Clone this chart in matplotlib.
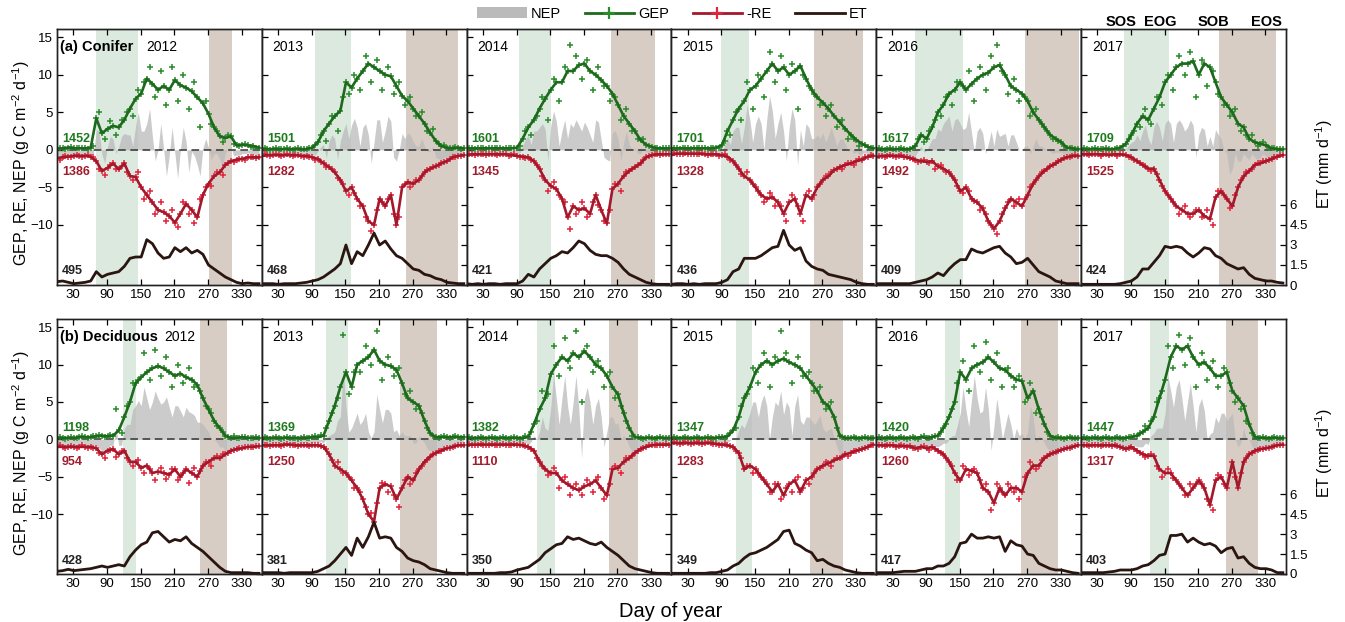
import matplotlib
matplotlib.use('Agg')
import matplotlib.pyplot as plt
import matplotlib.transforms as mtransforms
from matplotlib.patches import Patch
from matplotlib.lines import Line2D
import numpy as np

plt.rcParams['font.family'] = ['Liberation Sans', 'DejaVu Sans']
plt.rcParams['mathtext.default'] = 'regular'

# ---------------- data ----------------
years = [2012, 2013, 2014, 2015, 2016, 2017]
line_days = list(range(1, 362, 10))   # smoothed series, every 10 days
obs_days = list(range(6, 357, 10))    # scattered daily values in between

# Conifer
con_gep = [
    [0.2,0.2,0.3,0.2,0.2,0.2,0.3,4.2,2.2,2.8,3.2,3.0,4.0,5.5,6.8,7.5,9.5,8.8,8.0,8.5,8.0,9.3,8.6,8.3,7.8,7.0,6.2,4.8,3.0,1.8,1.6,1.8,0.6,0.7,0.6,0.5,0.3],
    [0.1,0.1,0.1,0.1,0.1,0.1,0.1,0.1,0.1,0.3,1.0,2.5,3.5,4.5,5.2,9.0,8.3,9.5,10.5,11.5,11.0,10.5,10.0,9.8,8.5,7.2,6.5,5.5,4.5,3.5,2.3,1.2,0.5,0.3,0.2,0.3,0.2],
    [0.2,0.2,0.2,0.2,0.2,0.2,0.2,0.2,0.2,0.3,1.5,3.0,4.0,5.5,6.8,8.0,9.0,9.0,10.5,10.5,11.3,11.5,10.5,10.0,9.3,8.5,7.5,6.0,4.5,3.5,2.5,1.3,0.7,0.4,0.2,0.2,0.2],
    [0.2,0.2,0.2,0.2,0.2,0.2,0.2,0.2,0.3,0.6,2.5,4.0,5.5,6.5,8.0,8.5,9.5,10.5,11.5,10.5,11.0,10.0,10.5,11.2,9.5,8.0,7.0,6.3,5.5,4.5,3.7,2.8,2.0,1.3,0.8,0.4,0.2],
    [0.1,0.1,0.1,0.1,0.1,0.1,0.1,0.5,2.0,1.5,3.0,5.0,6.0,7.5,8.0,9.0,8.0,8.8,9.5,10.0,10.3,11.0,11.3,10.0,8.5,8.0,7.5,6.5,5.0,4.0,3.0,2.0,1.5,1.0,0.3,0.2,0.1],
    [0.1,0.1,0.1,0.1,0.1,0.1,0.1,0.3,0.8,2.0,3.5,4.5,4.0,5.5,7.0,9.0,10.0,11.0,11.5,11.5,11.8,10.0,11.5,11.0,9.0,7.0,6.0,5.0,3.5,3.0,1.5,1.0,0.8,0.6,0.2,0.1,0.1],
]
con_gep_obs = [
    [0.3,0.1,0.4,0.2,0.3,0.1,0.5,5.0,1.5,3.8,2.0,4.0,5.0,4.5,8.0,9.0,11.0,7.0,10.5,6.0,11.0,6.5,10.0,5.5,9.0,3.0,6.5,3.5,2.5,1.0,2.0,0.8,0.5,0.8,0.4,0.3],
    [0.2,0.0,0.2,0.1,0.2,0.0,0.2,0.1,0.2,0.6,2.0,1.2,4.5,2.5,7.0,7.5,10.0,8.0,12.5,9.0,12.0,8.0,11.0,7.5,9.0,6.0,7.0,4.5,5.0,2.5,2.8,0.8,0.6,0.2,0.4,0.1],
    [0.3,0.1,0.3,0.1,0.2,0.3,0.1,0.2,0.3,0.5,2.5,2.0,4.5,7.0,4.0,9.5,6.5,11.0,14.0,12.5,9.5,12.0,8.0,11.0,8.5,6.5,7.0,4.0,5.5,2.5,1.5,1.5,0.5,0.3,0.1,0.3],
    [0.3,0.1,0.3,0.1,0.2,0.3,0.1,0.3,0.2,1.2,2.0,5.0,4.0,9.0,5.5,10.0,7.0,13.0,9.0,12.5,8.0,11.5,5.5,10.0,8.5,7.5,6.0,4.5,6.0,3.0,4.0,1.5,1.5,0.5,0.6,0.2],
    [0.2,0.0,0.2,0.1,0.2,0.0,0.2,1.5,1.0,2.5,4.0,4.5,7.0,6.0,9.0,8.5,10.5,6.5,11.0,8.0,12.5,14.0,10.5,7.5,9.5,6.5,7.0,4.5,5.5,3.5,2.5,1.5,1.2,0.5,0.2,0.1],
    [0.2,0.0,0.2,0.1,0.2,0.0,0.2,0.5,1.5,2.5,3.0,5.5,3.5,7.0,6.0,10.0,8.0,12.5,10.0,13.0,7.0,12.0,8.5,10.5,7.5,6.0,4.5,5.5,2.5,2.0,2.0,0.5,1.0,0.3,0.2,0.1],
]
con_re = [
    [-1.1,-1.0,-0.9,-0.8,-0.8,-0.8,-0.9,-1.5,-2.8,-2.4,-1.8,-2.6,-1.8,-3.5,-3.6,-5.0,-6.0,-7.0,-8.0,-8.3,-8.8,-9.7,-8.5,-7.2,-8.0,-9.0,-6.0,-4.5,-3.5,-3.0,-2.0,-1.5,-1.3,-1.2,-1.0,-1.0,-1.0],
    [-0.8,-0.7,-0.7,-0.7,-0.7,-0.7,-0.7,-0.8,-0.8,-1.0,-1.2,-1.8,-2.3,-3.0,-4.0,-5.5,-5.0,-6.5,-7.5,-9.5,-10.0,-6.5,-7.5,-6.0,-10.0,-5.0,-4.3,-4.5,-4.0,-3.0,-2.5,-2.2,-1.8,-1.5,-1.0,-0.8,-0.7],
    [-0.7,-0.6,-0.6,-0.6,-0.6,-0.6,-0.6,-0.6,-0.7,-0.8,-0.9,-1.0,-1.5,-2.5,-4.0,-4.8,-5.2,-6.5,-9.0,-7.5,-8.0,-7.8,-8.5,-6.0,-8.0,-9.8,-5.2,-4.5,-3.5,-2.8,-2.3,-1.8,-1.0,-0.7,-0.6,-0.6,-0.6],
    [-0.7,-0.5,-0.5,-0.5,-0.5,-0.5,-0.6,-0.6,-0.6,-0.7,-0.9,-1.5,-2.5,-3.5,-4.0,-5.0,-6.0,-6.5,-6.3,-7.0,-8.5,-7.0,-6.5,-8.5,-6.0,-6.5,-5.0,-4.0,-3.5,-2.7,-2.3,-2.0,-1.8,-1.5,-1.3,-0.9,-0.8],
    [-1.0,-0.8,-0.8,-0.8,-0.8,-0.9,-1.1,-1.3,-1.5,-1.6,-1.5,-2.2,-2.5,-3.0,-4.0,-5.5,-5.0,-6.5,-7.0,-7.8,-9.5,-10.5,-9.5,-7.8,-6.5,-7.0,-7.5,-6.0,-4.5,-3.5,-2.8,-2.2,-1.8,-1.3,-1.0,-0.8,-0.8],
    [-0.6,-0.6,-0.6,-0.6,-0.6,-0.7,-0.6,-0.6,-0.7,-1.0,-1.5,-2.0,-2.5,-2.5,-4.0,-5.5,-6.5,-7.5,-8.0,-8.5,-8.5,-8.0,-8.8,-9.2,-6.3,-5.5,-6.5,-7.5,-5.0,-3.5,-2.8,-2.0,-1.8,-1.5,-1.2,-0.9,-0.7],
]
con_re_obs = [
    [-1.3,-0.8,-1.0,-0.7,-0.9,-0.7,-1.0,-2.5,-3.3,-2.0,-2.5,-2.2,-3.0,-4.0,-3.0,-6.5,-5.5,-8.5,-7.0,-9.5,-8.0,-10.3,-7.0,-8.5,-9.8,-6.5,-5.0,-4.8,-3.0,-3.3,-1.8,-1.6,-1.2,-1.3,-0.9,-1.1],
    [-0.6,-0.8,-0.6,-0.8,-0.6,-0.8,-0.7,-0.9,-0.9,-1.3,-1.6,-2.3,-2.5,-3.8,-4.5,-6.0,-5.8,-7.5,-9.0,-10.8,-8.0,-7.0,-6.5,-8.5,-9.0,-4.5,-5.0,-4.0,-3.5,-2.7,-2.3,-2.0,-1.6,-1.2,-0.9,-0.8],
    [-0.5,-0.7,-0.5,-0.7,-0.5,-0.7,-0.5,-0.8,-0.6,-0.9,-1.1,-1.3,-2.0,-3.5,-5.5,-4.3,-6.0,-7.0,-10.5,-8.5,-7.0,-9.0,-7.0,-7.3,-9.5,-8.0,-4.5,-5.5,-3.0,-2.5,-2.0,-1.4,-0.8,-0.5,-0.7,-0.5],
    [-0.4,-0.6,-0.4,-0.6,-0.5,-0.4,-0.7,-0.5,-0.8,-0.6,-1.3,-2.0,-3.2,-3.0,-4.5,-5.5,-7.0,-5.8,-7.5,-7.5,-9.5,-6.0,-7.5,-9.5,-5.5,-6.0,-4.5,-3.5,-3.0,-2.5,-2.5,-1.7,-2.0,-1.2,-1.0,-0.7],
    [-0.8,-1.0,-0.7,-0.9,-0.7,-1.0,-1.2,-1.6,-1.3,-1.8,-2.5,-2.0,-3.0,-3.5,-4.8,-5.8,-5.5,-6.8,-8.0,-8.5,-10.0,-11.2,-8.5,-7.0,-7.5,-6.5,-6.5,-5.0,-4.0,-3.0,-2.5,-2.0,-1.5,-1.1,-0.9,-0.7],
    [-0.5,-0.7,-0.5,-0.8,-0.6,-0.5,-0.8,-0.6,-0.9,-1.3,-1.8,-2.2,-2.8,-3.2,-4.8,-6.0,-7.0,-8.5,-7.5,-9.0,-8.0,-9.0,-8.0,-10.0,-5.5,-6.0,-7.8,-6.0,-4.0,-3.0,-2.5,-1.8,-1.5,-1.3,-0.9,-0.7],
]
con_et = [
    [0.25,0.3,0.2,0.1,0.15,0.2,0.3,1.0,0.6,0.8,0.9,1.0,1.4,2.0,2.1,2.1,3.4,3.1,2.4,2.0,2.1,2.8,2.5,2.8,2.4,2.6,2.3,1.5,1.2,0.9,0.6,0.4,0.2,0.1,0.15,0.1,0.1],
    [0.1,0.1,0.1,0.05,0.1,0.1,0.1,0.15,0.2,0.3,0.4,0.6,0.9,1.2,1.6,3.0,1.6,2.5,2.2,3.0,3.9,3.0,3.3,2.7,2.2,2.0,1.6,1.2,1.1,0.8,0.7,0.5,0.4,0.2,0.15,0.1,0.1],
    [0.1,0.05,0.1,0.05,0.1,0.1,0.05,0.1,0.1,0.1,0.3,0.8,0.6,1.2,1.6,2.0,2.2,2.5,2.4,2.8,3.3,3.1,2.6,2.3,2.2,2.2,2.0,1.7,1.2,0.8,0.6,0.4,0.2,0.1,0.05,0.05,0.05],
    [0.05,0.1,0.1,0.05,0.1,0.05,0.1,0.1,0.1,0.2,0.4,1.0,1.2,2.0,2.0,2.0,2.2,2.5,2.8,2.9,4.1,3.0,2.6,2.8,1.8,1.4,1.2,1.1,0.8,0.7,0.6,0.5,0.4,0.2,0.1,0.05,0.05],
    [0.1,0.1,0.1,0.1,0.1,0.1,0.1,0.2,0.3,0.4,0.6,0.9,0.7,1.2,1.6,1.9,1.9,2.7,2.5,2.4,2.6,2.8,2.9,2.4,2.1,1.6,1.7,2.0,1.5,1.0,0.8,0.6,0.3,0.2,0.1,0.1,0.1],
    [0.05,0.05,0.05,0.05,0.05,0.05,0.05,0.1,0.2,0.3,0.6,1.2,1.2,1.7,2.2,2.9,2.8,2.9,2.8,2.4,2.1,2.4,2.8,2.7,2.2,2.0,1.6,1.4,1.2,1.3,0.8,0.5,0.4,0.3,0.3,0.2,0.15],
]

# Deciduous
dec_gep = [
    [0.2,0.2,0.2,0.2,0.3,0.3,0.3,0.4,0.5,0.4,0.5,1.2,3.0,5.0,7.5,8.3,9.0,9.5,9.8,9.5,9.0,8.5,8.8,8.3,8.0,7.3,5.5,4.0,2.5,1.5,0.5,0.2,0.2,0.3,0.2,0.2,0.2],
    [0.2,0.2,0.2,0.2,0.2,0.2,0.2,0.2,0.2,0.3,0.3,0.5,2.5,4.5,7.0,9.0,7.0,10.0,10.5,11.0,12.0,10.5,10.0,9.8,9.3,7.5,5.5,5.0,4.5,2.5,0.8,0.3,0.3,0.3,0.3,0.3,0.3],
    [0.2,0.2,0.2,0.2,0.2,0.2,0.2,0.2,0.2,0.2,0.2,0.3,2.0,4.0,5.5,8.7,10.0,11.0,10.5,11.5,11.0,11.8,11.0,10.0,9.5,8.5,7.0,6.0,3.5,1.5,0.3,0.2,0.2,0.2,0.2,0.2,0.2],
    [0.2,0.2,0.2,0.2,0.2,0.2,0.2,0.2,0.2,0.3,0.4,1.2,3.0,5.5,7.0,9.0,10.0,10.5,10.0,10.5,10.8,10.3,10.0,9.5,8.5,7.5,6.5,5.0,4.5,3.0,0.5,0.2,0.2,0.2,0.2,0.2,0.2],
    [0.2,0.2,0.2,0.2,0.2,0.2,0.2,0.2,0.3,0.2,0.3,0.5,1.5,3.0,5.0,9.0,8.0,9.5,10.0,10.3,11.0,10.3,9.5,9.3,8.5,8.0,7.8,5.5,6.5,4.0,2.0,0.5,0.2,0.2,0.2,0.2,0.2],
    [0.2,0.2,0.2,0.2,0.2,0.2,0.2,0.2,0.2,0.3,0.5,1.0,1.5,3.0,5.5,8.0,11.0,12.5,12.0,12.5,11.0,10.0,10.3,9.5,8.5,8.5,9.0,6.5,5.5,4.5,2.0,0.3,0.2,0.2,0.2,0.2,0.2],
]
dec_gep_obs = [
    [0.3,0.1,0.3,0.2,0.4,0.2,0.4,0.6,0.3,0.6,4.0,0.8,4.5,7.5,8.0,11.5,8.0,12.0,8.5,11.0,7.0,10.0,7.5,9.5,7.0,6.5,4.5,3.5,1.8,1.0,0.3,0.4,0.2,0.3,0.2,0.3],
    [0.3,0.1,0.3,0.1,0.3,0.2,0.1,0.3,0.2,0.4,0.6,1.5,3.5,5.5,14.0,6.0,9.0,9.0,12.5,10.0,14.5,8.0,11.0,8.5,9.5,6.0,6.5,4.0,3.5,1.5,0.5,0.2,0.4,0.2,0.4,0.2],
    [0.3,0.1,0.3,0.1,0.3,0.1,0.3,0.1,0.3,0.1,0.5,1.0,2.5,6.5,6.0,12.5,8.5,13.5,9.5,14.5,5.0,12.5,9.0,10.5,7.0,9.0,5.5,4.5,2.5,0.5,0.3,0.1,0.3,0.1,0.3,0.2],
    [0.3,0.1,0.3,0.1,0.3,0.1,0.3,0.1,0.3,0.2,0.8,1.5,4.5,6.0,9.5,7.5,11.5,7.0,11.0,14.5,11.5,7.5,11.0,8.5,9.0,6.5,7.0,4.0,5.0,1.5,0.3,0.2,0.3,0.1,0.3,0.2],
    [0.3,0.1,0.3,0.1,0.3,0.1,0.3,0.1,0.4,0.2,0.4,1.0,2.0,4.0,7.5,10.5,6.5,12.5,9.0,13.0,8.0,11.5,7.0,9.5,7.0,8.5,5.0,7.5,3.5,3.0,1.0,0.2,0.3,0.1,0.3,0.2],
    [0.3,0.1,0.3,0.1,0.3,0.1,0.3,0.1,0.3,0.5,0.8,1.8,2.5,5.0,6.5,12.5,9.5,14.0,10.0,13.5,7.0,11.5,8.0,10.5,7.0,9.5,7.5,5.0,4.0,2.5,0.8,0.2,0.3,0.1,0.3,0.2],
]
dec_re = [
    [-1.0,-1.0,-1.0,-1.0,-1.0,-1.0,-1.0,-1.2,-2.0,-1.5,-1.3,-2.0,-1.5,-3.0,-3.0,-3.8,-3.5,-4.5,-4.3,-4.5,-4.7,-4.0,-5.0,-4.0,-4.5,-5.0,-3.5,-3.0,-2.5,-2.5,-2.0,-1.5,-1.3,-1.2,-1.0,-1.0,-0.9],
    [-0.8,-0.8,-0.8,-0.8,-0.7,-0.7,-0.8,-0.8,-0.8,-0.8,-0.8,-1.0,-2.0,-3.5,-4.0,-4.5,-5.5,-6.5,-8.0,-10.0,-11.0,-6.5,-6.0,-6.3,-8.0,-6.5,-5.0,-5.5,-4.0,-3.0,-2.3,-1.8,-1.5,-1.2,-1.0,-0.8,-0.8],
    [-0.8,-0.7,-0.7,-0.7,-0.7,-0.7,-0.7,-0.7,-0.7,-0.7,-0.8,-1.0,-1.5,-3.0,-4.0,-4.5,-4.5,-5.5,-6.0,-6.5,-6.8,-6.3,-6.0,-5.5,-6.5,-7.5,-4.0,-3.8,-3.0,-2.5,-1.8,-1.3,-1.0,-0.8,-0.7,-0.7,-0.7],
    [-0.5,-0.5,-0.5,-0.5,-0.5,-0.5,-0.5,-0.5,-0.6,-0.7,-0.8,-1.0,-1.8,-4.0,-3.5,-4.0,-5.0,-6.0,-7.0,-6.0,-7.5,-6.0,-5.5,-7.0,-5.5,-5.0,-4.0,-3.5,-3.2,-2.8,-2.5,-2.0,-1.8,-1.5,-1.3,-1.0,-0.7],
    [-0.8,-0.8,-0.8,-0.8,-0.9,-0.9,-0.9,-1.2,-1.0,-1.2,-1.0,-1.5,-2.0,-3.0,-4.5,-5.5,-4.0,-4.2,-4.5,-6.5,-7.0,-8.5,-6.5,-7.5,-6.5,-6.5,-7.0,-4.5,-3.5,-3.5,-2.5,-2.0,-1.7,-1.4,-1.2,-1.0,-0.8],
    [-0.8,-0.8,-0.8,-0.8,-0.8,-0.8,-0.8,-1.0,-1.3,-1.0,-1.5,-2.0,-2.2,-2.2,-4.0,-4.5,-4.5,-5.5,-6.5,-7.5,-6.5,-5.5,-6.5,-8.8,-5.5,-5.0,-6.5,-3.0,-6.5,-3.0,-2.0,-1.5,-1.3,-1.2,-1.0,-0.8,-0.7],
]
dec_re_obs = [
    [-0.8,-1.2,-0.9,-1.1,-0.8,-1.2,-1.1,-1.8,-2.5,-1.4,-2.3,-1.6,-2.5,-3.5,-2.8,-4.5,-4.0,-5.5,-3.8,-5.3,-4.0,-5.5,-4.5,-5.8,-3.8,-4.2,-3.0,-3.5,-2.2,-2.0,-1.8,-1.4,-1.1,-1.0,-1.0,-0.9],
    [-0.7,-0.9,-0.7,-0.9,-0.6,-0.8,-0.9,-0.7,-0.9,-0.7,-0.9,-1.3,-2.8,-3.0,-4.5,-5.0,-6.5,-7.0,-9.0,-9.8,-8.5,-5.8,-7.0,-7.5,-9.0,-5.5,-6.0,-4.5,-3.5,-2.8,-2.0,-1.6,-1.3,-1.1,-0.9,-0.8],
    [-0.6,-0.8,-0.6,-0.8,-0.6,-0.8,-0.6,-0.8,-0.6,-0.8,-0.9,-1.3,-2.5,-3.5,-4.8,-3.8,-6.5,-5.0,-7.5,-6.0,-7.5,-5.5,-7.0,-5.0,-8.0,-6.0,-3.5,-4.5,-2.5,-2.2,-1.5,-1.2,-0.8,-0.7,-0.8,-0.6],
    [-0.4,-0.6,-0.4,-0.6,-0.4,-0.6,-0.4,-0.6,-0.7,-0.6,-0.9,-1.5,-2.5,-3.5,-4.5,-4.5,-5.5,-7.0,-6.0,-8.0,-6.5,-7.0,-5.0,-6.5,-6.0,-4.5,-3.8,-3.0,-3.5,-2.5,-2.3,-2.2,-1.6,-1.4,-1.1,-0.8],
    [-0.7,-0.9,-0.7,-1.0,-0.8,-1.0,-1.1,-1.3,-0.9,-1.4,-1.3,-1.8,-2.5,-3.5,-5.5,-3.5,-4.8,-4.0,-5.5,-6.0,-9.5,-6.0,-7.0,-6.0,-7.0,-8.0,-5.0,-3.0,-4.0,-2.8,-2.2,-1.8,-1.5,-1.3,-1.1,-0.9],
    [-0.7,-0.9,-0.7,-0.9,-0.7,-0.9,-0.9,-1.2,-1.1,-1.3,-1.8,-2.3,-2.0,-3.5,-5.0,-4.0,-5.2,-6.0,-7.5,-6.0,-6.0,-6.0,-8.0,-9.5,-4.8,-6.0,-4.5,-5.0,-4.5,-2.5,-1.8,-1.4,-1.3,-1.1,-0.9,-0.8],
]
dec_et = [
    [0.2,0.25,0.35,0.25,0.3,0.35,0.4,0.5,0.6,0.5,0.6,0.7,0.6,1.3,1.8,2.2,2.4,3.1,3.2,2.8,2.4,2.6,2.5,2.8,2.3,2.0,1.7,1.3,0.9,0.5,0.2,0.1,0.1,0.1,0.1,0.05,0.05],
    [0.1,0.1,0.1,0.1,0.05,0.1,0.1,0.1,0.1,0.1,0.2,0.4,0.6,1.0,1.5,2.0,1.4,2.7,2.0,2.8,3.9,2.7,2.8,2.7,2.0,1.7,1.2,1.0,0.9,0.7,0.4,0.3,0.2,0.1,0.05,0.05,0.05],
    [0.05,0.05,0.05,0.05,0.05,0.05,0.1,0.1,0.15,0.3,0.4,0.5,0.8,1.1,1.6,1.9,2.2,2.3,2.8,2.6,2.7,2.5,2.3,2.2,2.4,2.0,1.7,1.4,1.0,0.6,0.4,0.3,0.2,0.1,0.05,0.05,0.05],
    [0.05,0.05,0.05,0.05,0.05,0.05,0.05,0.1,0.1,0.2,0.3,0.6,0.8,1.2,1.5,1.6,1.8,2.0,2.3,2.6,3.2,3.3,2.3,2.1,1.8,1.6,1.0,1.1,0.8,0.6,0.5,0.3,0.2,0.1,0.05,0.05,0.05],
    [0.1,0.1,0.1,0.1,0.15,0.2,0.2,0.2,0.3,0.4,0.4,0.6,0.6,0.8,1.3,2.3,2.4,3.0,2.7,2.7,2.8,2.7,2.8,1.7,2.5,2.2,2.1,1.5,1.4,0.8,0.6,0.4,0.3,0.3,0.2,0.1,0.05],
    [0.1,0.1,0.1,0.1,0.1,0.15,0.2,0.3,0.3,0.3,0.4,0.6,0.7,1.0,1.4,1.5,2.9,2.9,3.0,2.4,2.7,2.4,2.2,2.3,2.1,1.6,1.9,2.0,1.2,1.3,0.8,0.5,0.4,0.4,0.3,0.1,0.1],
]

# annual totals
con_gep_tot = [1452, 1501, 1601, 1701, 1617, 1709]
con_re_tot = [1386, 1282, 1345, 1328, 1492, 1525]
con_et_tot = [495, 468, 421, 436, 409, 424]
dec_gep_tot = [1198, 1369, 1382, 1347, 1420, 1447]
dec_re_tot = [954, 1250, 1110, 1283, 1260, 1317]
dec_et_tot = [428, 381, 350, 349, 417, 403]

# phenology (day of year)
con_sos = [70, 96, 95, 89, 71, 78]
con_eog = [146, 160, 152, 139, 155, 158]
con_sob = [271, 258, 258, 255, 267, 248]
con_eos = [313, 350, 337, 343, 362, 349]
dec_sos = [118, 116, 126, 117, 124, 125]
dec_eog = [142, 154, 159, 144, 151, 158]
dec_sob = [255, 248, 254, 248, 260, 260]
dec_eos = [304, 313, 306, 307, 325, 317]

# ---------------- style ----------------
GEP_LINE = '#1d6a1d'
GEP_PT = '#2b8c2b'
RE_LINE = '#a3182b'
RE_PT = '#e2253b'
ET_C = '#2a1510'
NEP_C = '#bababa'
GREEN_BAND = '#dbe9df'
BROWN_BAND = '#d7cdc4'

sites = [
    dict(name='(a) Conifer', gep=con_gep, gep_obs=con_gep_obs, re=con_re, re_obs=con_re_obs,
         et=con_et, gt=con_gep_tot, rt=con_re_tot, et_t=con_et_tot,
         sos=con_sos, eog=con_eog, sob=con_sob, eos=con_eos, first_year_x=187,
         bottom=0.5418, height=0.4116, ylab_y=0.737),
    dict(name='(b) Deciduous', gep=dec_gep, gep_obs=dec_gep_obs, re=dec_re, re_obs=dec_re_obs,
         et=dec_et, gt=dec_gep_tot, rt=dec_re_tot, et_t=dec_et_tot,
         sos=dec_sos, eog=dec_eog, sob=dec_sob, eos=dec_eos, first_year_x=219,
         bottom=0.0772, height=0.4100, ylab_y=0.272),
]

fig = plt.figure(figsize=(13.45, 6.22), dpi=100)
left0, pw = 0.0424, 0.15225
ld = np.array(line_days)
od = np.array(obs_days)

for s in sites:
    for i, yr in enumerate(years):
        ax = fig.add_axes([left0 + i * pw, s['bottom'], pw, s['height']])
        gep = np.array(s['gep'][i]); re = np.array(s['re'][i])
        gep_o = np.array(s['gep_obs'][i]); re_o = np.array(s['re_obs'][i])

        ax.axvspan(s['sos'][i], s['eog'][i], color=GREEN_BAND, lw=0, zorder=0)
        ax.axvspan(s['sob'][i], s['eos'][i], color=BROWN_BAND, lw=0, zorder=0)

        # NEP = GEP - RE (RE already negative here)
        nd = np.concatenate([ld, od])
        nv = np.concatenate([gep + re, gep_o + re_o])
        order = np.argsort(nd)
        ax.fill_between(nd[order], 0, nv[order], color=NEP_C, alpha=0.75, lw=0, zorder=1)
        ax.axhline(0, color='#333333', ls=(0, (5, 3)), lw=1.1, zorder=2)

        ax.plot(od, gep_o, '+', color=GEP_PT, ms=4.5, mew=1.1, zorder=3)
        ax.plot(ld, gep, '+', color=GEP_PT, ms=4.5, mew=1.1, zorder=3)
        ax.plot(ld, gep, '-', color=GEP_LINE, lw=1.9, zorder=4)
        ax.plot(od, re_o, '+', color=RE_PT, ms=4.5, mew=1.1, zorder=3)
        ax.plot(ld, re, '+', color=RE_PT, ms=4.5, mew=1.1, zorder=3)
        ax.plot(ld, re, '-', color=RE_LINE, lw=1.9, zorder=4)

        ax.set_xlim(1, 366)
        ax.set_ylim(-18, 16.1)
        ax.set_xticks([30, 90, 150, 210, 270, 330])
        ax.set_yticks([-10, -5, 0, 5, 10, 15])
        ax.tick_params(direction='in', length=4, width=0.9, labelsize=9.5, top=True,
                       labelleft=(i == 0), pad=3)

        ax2 = ax.twinx()
        ax2.plot(ld, s['et'][i], '-', color=ET_C, lw=2)
        ax2.set_ylim(0, 19.2)
        ax2.set_yticks([0, 1.5, 3, 4.5, 6])
        ax2.set_yticklabels(['0', '1.5', '3', '4.5', '6'])
        ax2.tick_params(direction='in', length=4, width=0.9, labelsize=9.5,
                        labelright=(i == len(years) - 1), pad=3)
        for sp in list(ax.spines.values()) + list(ax2.spines.values()):
            sp.set_linewidth(1.0)
            sp.set_color('#222222')

        # annotations
        if i == 0:
            ax.text(6, 13.7, s['name'], fontsize=10.5, fontweight='bold', ha='left', va='center')
            ax.text(s['first_year_x'], 13.7, str(yr), fontsize=10, ha='center', va='center')
        else:
            ax.text(48, 13.7, str(yr), fontsize=10, ha='center', va='center')
        ax.text(10, 1.5, str(s['gt'][i]), color='#1e7a1e', fontsize=9, fontweight='bold',
                ha='left', va='center', zorder=5)
        ax.text(10, -3.0, str(s['rt'][i]), color='#a01c2b', fontsize=9, fontweight='bold',
                ha='left', va='center', zorder=5)
        ax.text(10, -16.2, str(s['et_t'][i]), color='#222222', fontsize=9, fontweight='bold',
                ha='left', va='center', zorder=5)

        if s is sites[0] and i == len(years) - 1:
            trans = mtransforms.blended_transform_factory(ax.transData, ax.transAxes)
            for lx, lab in zip([72, 143, 237, 331], ['SOS', 'EOG', 'SOB', 'EOS']):
                ax.text(lx, 1.028, lab, transform=trans, fontsize=10.5, fontweight='bold',
                        ha='center', va='center')

    fig.text(0.0155, s['ylab_y'], 'GEP, RE, NEP (g C m$^{-2}$ d$^{-1}$)', rotation=90,
             ha='center', va='center', fontsize=11.5)
    fig.text(0.9845, s['ylab_y'], 'ET (mm d$^{-1}$)', rotation=90,
             ha='center', va='center', fontsize=11.5)

fig.text(0.499, 0.017, 'Day of year', ha='center', va='center', fontsize=14.5)

handles = [
    Patch(facecolor=NEP_C, edgecolor='none'),
    Line2D([], [], color=GEP_LINE, lw=2, marker='+', ms=9, mew=1.6, mec=GEP_PT),
    Line2D([], [], color=RE_LINE, lw=2, marker='+', ms=9, mew=1.6, mec=RE_PT),
    Line2D([], [], color=ET_C, lw=2),
]
fig.legend(handles, ['NEP', 'GEP', '-RE', 'ET'], loc='center', bbox_to_anchor=(0.5, 0.978),
           ncol=4, frameon=False, fontsize=10.5, handlelength=3.4, handletextpad=0.3,
           columnspacing=1.6)

fig.savefig('out.png', dpi=100, facecolor='white')
print('Done: out.png')
